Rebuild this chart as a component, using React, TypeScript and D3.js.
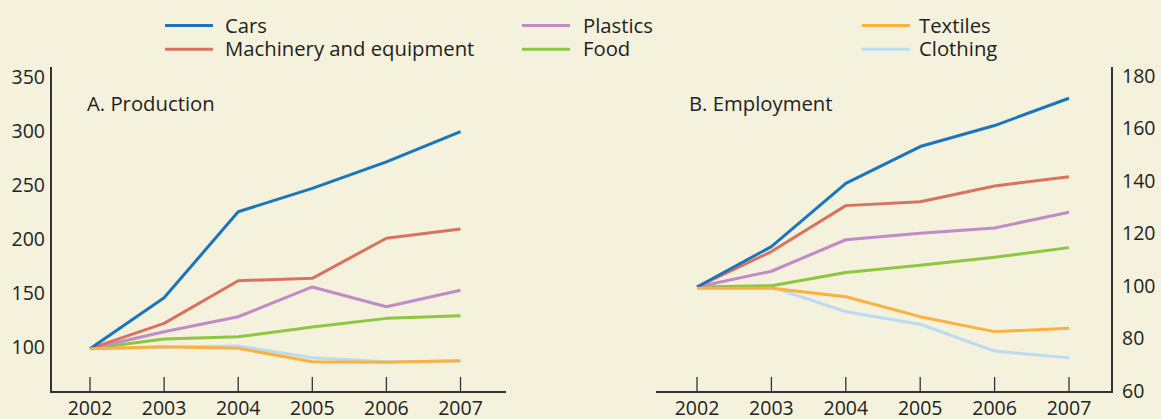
import React from "react";
import * as d3 from "d3";

const years = [2002, 2003, 2004, 2005, 2006, 2007];
const seriesNames = ["Cars", "Machinery and equipment", "Plastics", "Food", "Textiles", "Clothing"];
const seriesColors = ["#1a75bb", "#d9735f", "#c08bc6", "#8dc63f", "#fbb040", "#b9dcf2"];

// A. Production (index, 2002 = 100)
const prodCars = [100, 147, 226.5, 248, 272.5, 300.5];
const prodMachinery = [100, 123.4, 162.8, 165, 202, 210.5];
const prodPlastics = [100, 115.7, 129.5, 157, 138.8, 154];
const prodFood = [100, 109, 111, 120, 128, 130.5];
const prodTextiles = [100, 101.8, 100.4, 88, 87.4, 88.9];
const prodClothing = [100, 101.3, 102.5, 91.7, 88, 88.6];

// B. Employment (index, 2002 = 100)
const empCars = [100, 115.4, 139.5, 153.5, 161.5, 171.9];
const empMachinery = [100, 113.5, 131, 132.5, 138.5, 142];
const empPlastics = [100, 106, 118, 120.5, 122.5, 128.5];
const empFood = [100, 100.5, 105.5, 108.3, 111.3, 115];
const empTextiles = [99.5, 99.5, 96.3, 88.7, 83, 84.3];
const empClothing = [100, 100, 90.6, 85.8, 75.6, 73];

const prodTicks = [100, 150, 200, 250, 300, 350];
const empTicks = [60, 80, 100, 120, 140, 160, 180];

const prodSeries = [prodCars, prodMachinery, prodPlastics, prodFood, prodTextiles, prodClothing];
const empSeries = [empCars, empMachinery, empPlastics, empFood, empTextiles, empClothing];

const drawOrder = [5, 3, 2, 1, 0, 4];

const FONT = "'Open Sans', sans-serif";
const TEXT = "#231f20";
const AXIS = "#333333";
const TICK_FS = 19.5;
const LABEL_FS = 20.3;

function Panel({ title, series, yScale, ticks, xRange, axisX, side, axisLeft, axisRight, titleX }) {
  const x = d3.scalePoint().domain(years.map(String)).range(xRange);
  const line = d3
    .line<number>()
    .x((_, i) => x(String(years[i])) as number)
    .y((v) => yScale(v));
  const axisY = 392;
  const axisTop = 67;
  return (
    <g>
      <text x={titleX} y={103} fontSize={LABEL_FS} fill={TEXT} dominantBaseline="central" fontFamily={FONT}>
        {title}
      </text>
      {drawOrder.map((si) => (
        <path
          key={si}
          d={line(series[si]) || ""}
          fill="none"
          stroke={seriesColors[si]}
          strokeWidth={3}
          strokeLinejoin="round"
        />
      ))}
      <line x1={axisLeft} x2={axisRight} y1={axisY} y2={axisY} stroke={AXIS} strokeWidth={2} />
      <line x1={axisX} x2={axisX} y1={axisTop} y2={axisY + 1} stroke={AXIS} strokeWidth={2} />
      {years.map((yr) => (
        <g key={yr}>
          <line
            x1={x(String(yr))}
            x2={x(String(yr))}
            y1={axisY - 15}
            y2={axisY}
            stroke={AXIS}
            strokeWidth={1.3}
          />
          <text
            x={x(String(yr))}
            y={407}
            textAnchor="middle"
            dominantBaseline="central"
            fontSize={TICK_FS}
            fill={TEXT}
            fontFamily={FONT}
          >
            {yr}
          </text>
        </g>
      ))}
      {ticks.map((t) => (
        <text
          key={t}
          x={side === "left" ? axisX - 6 : axisX + 10}
          y={yScale(t) - 2}
          textAnchor={side === "left" ? "end" : "start"}
          dominantBaseline="central"
          fontSize={TICK_FS}
          fill={TEXT}
          fontFamily={FONT}
        >
          {t}
        </text>
      ))}
    </g>
  );
}

export default function App() {
  const W = 1161;
  const H = 419;
  const yProd = d3.scaleLinear().domain([60, 350]).range([392, 78]);
  const yEmp = d3.scaleLinear().domain([60, 180]).range([392, 77]);

  const legendCols = [
    { lineX: 165, textX: 225, items: [0, 1] },
    { lineX: 522, textX: 583, items: [2, 3] },
    { lineX: 862, textX: 919, items: [4, 5] },
  ];
  const legendRows = [25.5, 49.3];

  return (
    <svg
      width={W}
      height={H}
      style={{ position: "absolute", left: 0, top: 0, display: "block" }}
    >
      <rect x={0} y={0} width={W} height={H} fill="#f4f1dd" />
      {legendCols.map((col, ci) =>
        col.items.map((si, ri) => (
          <g key={`${ci}-${ri}`}>
            <line
              x1={col.lineX}
              x2={col.lineX + 48}
              y1={legendRows[ri]}
              y2={legendRows[ri]}
              stroke={seriesColors[si]}
              strokeWidth={3}
            />
            <text
              x={col.textX}
              y={legendRows[ri] - 1}
              dominantBaseline="central"
              fontSize={LABEL_FS}
              fill={TEXT}
              fontFamily={FONT}
            >
              {seriesNames[si]}
            </text>
          </g>
        ))
      )}
      <Panel
        title="A. Production"
        series={prodSeries}
        yScale={yProd}
        ticks={prodTicks}
        xRange={[90, 460.5]}
        axisX={51}
        side="left"
        axisLeft={50}
        axisRight={506}
        titleX={87}
      />
      <Panel
        title="B. Employment"
        series={empSeries}
        yScale={yEmp}
        ticks={empTicks}
        xRange={[697, 1069]}
        axisX={1112}
        side="right"
        axisLeft={656}
        axisRight={1113}
        titleX={689}
      />
    </svg>
  );
}
